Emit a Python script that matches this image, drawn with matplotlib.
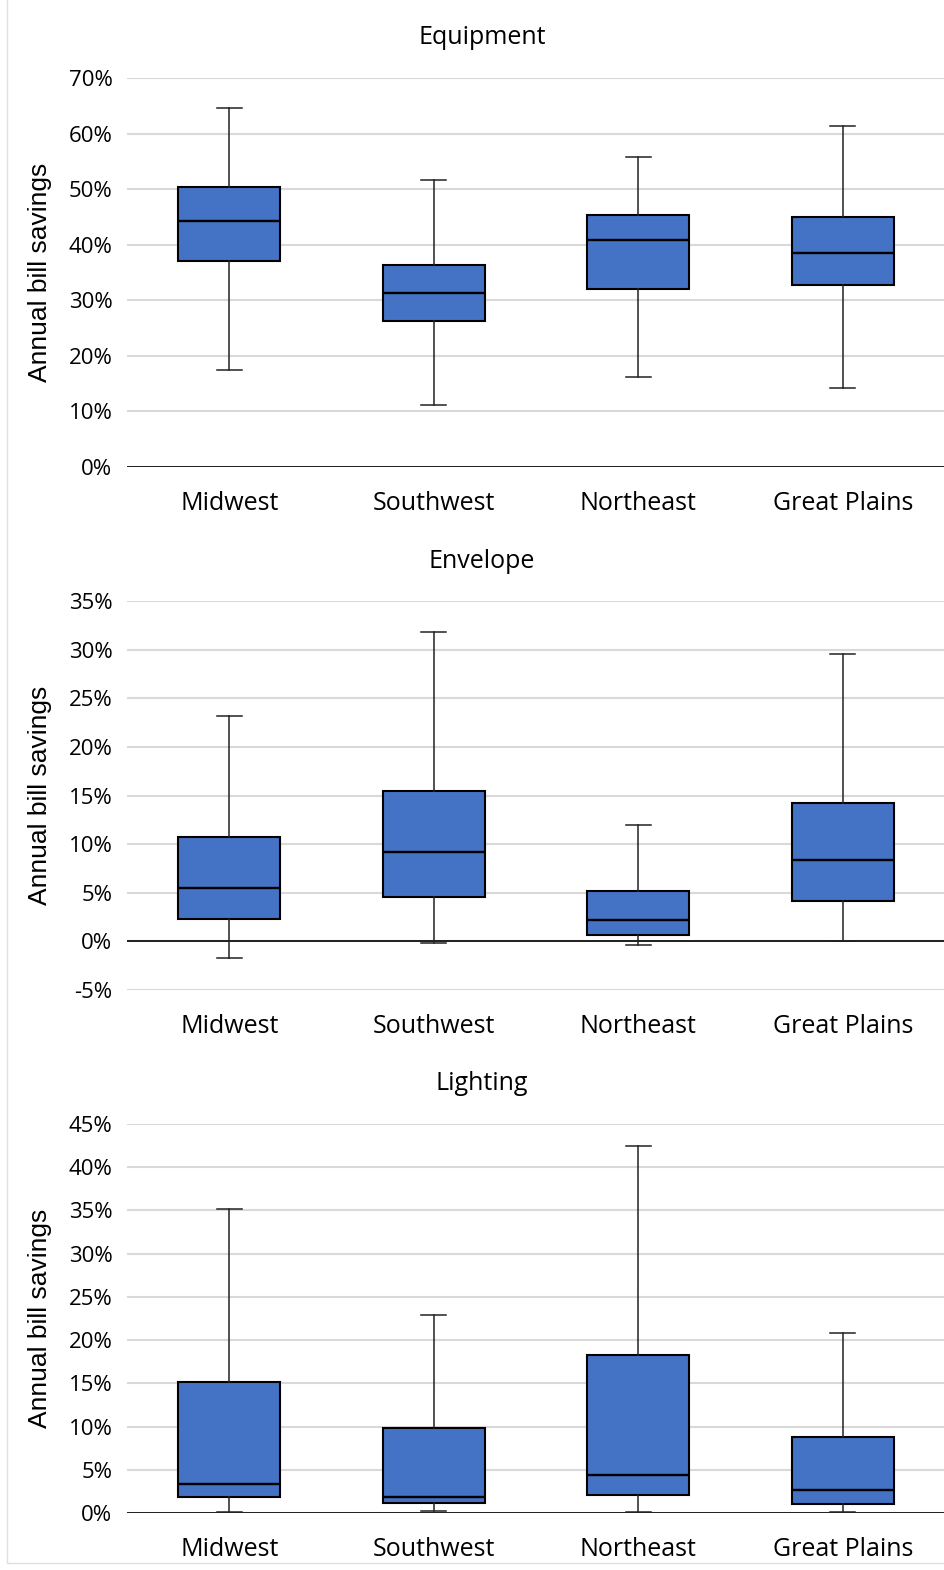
import matplotlib
matplotlib.use("Agg")
import matplotlib.pyplot as plt
from matplotlib.ticker import PercentFormatter

plt.rcParams['axes.unicode_minus'] = False

regions = ["Midwest", "Southwest", "Northeast", "Great Plains"]

# box stats in percent
equip_low = [17.4, 11.1, 16.2, 14.2]
equip_q1 = [37.0, 26.2, 32.1, 32.7]
equip_med = [44.2, 31.3, 40.8, 38.5]
equip_q3 = [50.3, 36.4, 45.3, 45.0]
equip_high = [64.6, 51.7, 55.7, 61.4]

env_low = [-1.7, -0.2, -0.4, 0.0]
env_q1 = [2.3, 4.6, 0.7, 4.2]
env_med = [5.5, 9.2, 2.2, 8.4]
env_q3 = [10.7, 15.5, 5.2, 14.2]
env_high = [23.2, 31.8, 12.0, 29.5]

light_low = [0.1, 0.2, 0.1, 0.1]
light_q1 = [1.8, 1.2, 2.1, 1.0]
light_med = [3.4, 1.8, 4.4, 2.7]
light_q3 = [15.1, 9.8, 18.3, 8.8]
light_high = [35.2, 22.9, 42.4, 20.8]

panels = [
    ("Equipment", equip_low, equip_q1, equip_med, equip_q3, equip_high, (0, 70), 10),
    ("Envelope", env_low, env_q1, env_med, env_q3, env_high, (-5, 35), 5),
    ("Lighting", light_low, light_q1, light_med, light_q3, light_high, (0, 45), 5),
]

W, H = 945, 1570
fig = plt.figure(figsize=(W / 100, H / 100), dpi=100)
# axes boxes in pixels: left, top, right, bottom
boxes = [(127, 78, 945, 467), (127, 601, 945, 990), (127, 1124, 945, 1513)]
title_y = [38, 561, 1084]

for (title, lo, q1, med, q3, hi, ylim, step), (l, t, r, b), ty in zip(panels, boxes, title_y):
    ax = fig.add_axes([l / W, 1 - b / H, (r - l) / W, (b - t) / H])
    stats = []
    for i, name in enumerate(regions):
        stats.append(dict(label=name, whislo=lo[i], q1=q1[i], med=med[i], q3=q3[i], whishi=hi[i], fliers=[]))
    ax.bxp(stats, positions=range(4), widths=0.5, patch_artist=True, showfliers=False,
           boxprops=dict(facecolor="#4472C4", edgecolor="black", linewidth=1.5),
           medianprops=dict(color="black", linewidth=1.7),
           whiskerprops=dict(color="#222222", linewidth=1.1),
           capprops=dict(color="#222222", linewidth=1.1), capwidths=0.12)
    ax.set_xlim(-0.5, 3.5)
    ax.set_ylim(*ylim)
    ax.set_yticks(range(ylim[0], ylim[1] + 1, step))
    ax.yaxis.set_major_formatter(PercentFormatter(decimals=0))
    ax.grid(axis="y", color="#D9D9D9", linewidth=1.5)
    ax.set_axisbelow(True)
    ax.axhline(0, color="black", linewidth=1.2, zorder=1.5)
    for s in ax.spines.values():
        s.set_visible(False)
    ax.tick_params(length=0)
    ax.tick_params(axis="y", pad=10.5, labelsize=16)
    ax.tick_params(axis="x", pad=17, labelsize=18)
    for lab in ax.get_xticklabels() + ax.get_yticklabels():
        lab.set_family("Open Sans")
    ax.set_ylabel("Annual bill savings", family="Liberation Sans", fontsize=19, labelpad=12)
    fig.text(482 / W, 1 - ty / H, title, ha="center", va="center", family="Open Sans", fontsize=18)

fig.patches.append(plt.Rectangle((7 / W, 7 / H), 1.2, 1.2, transform=fig.transFigure,
                                 fill=False, edgecolor="#E0E0E0", linewidth=1))
fig.savefig("out.png", dpi=100, facecolor="white")
